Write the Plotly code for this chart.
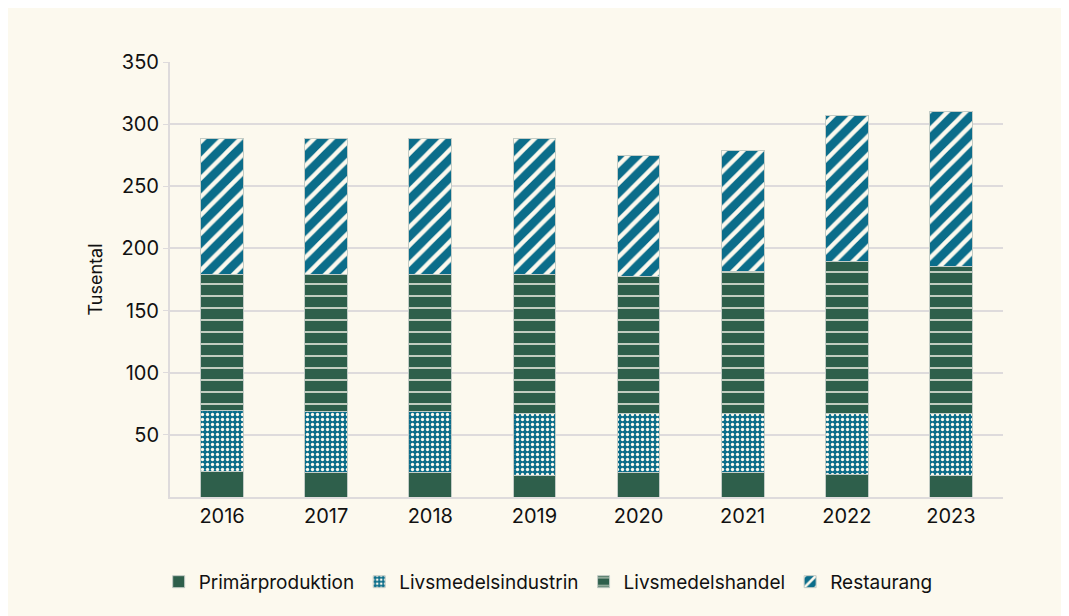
import plotly.graph_objects as go

years = ["2016", "2017", "2018", "2019", "2020", "2021", "2022", "2023"]
primar = [20.4, 19.6, 19.6, 17.7, 19.6, 19.6, 18.5, 17.7]
industri = [49.0, 49.0, 49.0, 49.1, 47.2, 47.2, 49.0, 49.8]
handel = [110.0, 110.8, 110.8, 112.6, 110.9, 114.4, 121.8, 117.7]
restaurang = [109.1, 109.1, 109.1, 109.1, 97.1, 97.6, 117.4, 125.0]

TEAL = "#0b6d8a"
GREEN = "#2e5f4b"
CREAM = "#fcf9ee"
LINE = "#c3ccc6"

fig = go.Figure()
fig.add_bar(name="Primärproduktion", x=years, y=primar,
            marker=dict(color=GREEN, line=dict(color=LINE, width=1)))
fig.add_bar(name="Livsmedelsindustrin", x=years, y=industri,
            marker=dict(color=TEAL, line=dict(color=LINE, width=1),
                        pattern=dict(shape=".", fgcolor=CREAM, bgcolor=TEAL, fgopacity=1,
                                     size=5, solidity=0.35, fillmode="replace")))
fig.add_bar(name="Livsmedelshandel", x=years, y=handel,
            marker=dict(color=GREEN, line=dict(color=LINE, width=1),
                        pattern=dict(shape="-", fgcolor=CREAM, bgcolor=GREEN, fgopacity=1,
                                     size=12, solidity=0.12, fillmode="replace")))
fig.add_bar(name="Restaurang", x=years, y=restaurang,
            marker=dict(color=TEAL, line=dict(color=LINE, width=1),
                        pattern=dict(shape="/", fgcolor=CREAM, bgcolor=TEAL, fgopacity=1,
                                     size=13, solidity=0.33, fillmode="replace")))

fig.update_layout(
    barmode="stack",
    bargap=0.59,
    width=1069, height=616,
    margin=dict(l=162, r=74, t=54, b=127),
    paper_bgcolor=CREAM,
    plot_bgcolor=CREAM,
    font=dict(family="Inter, Roboto, sans-serif", size=20, color="#111111"),
    legend=dict(orientation="h", x=0.454, xanchor="center", y=-0.195, yanchor="middle",
                font=dict(size=19), itemwidth=30, traceorder="normal",
                bgcolor="rgba(0,0,0,0)"),
)
fig.update_yaxes(range=[0, 350], tickvals=[50, 100, 150, 200, 250, 300, 350],
                 showgrid=True, gridcolor="#dedbdc", gridwidth=2,
                 showline=True, linecolor="#dedbdc", linewidth=2,
                 ticks="outside", ticklen=5, tickcolor="#dedbdc",
                 tickfont=dict(size=20),
                 title=dict(text="Tusental", font=dict(size=18), standoff=14),
                 zeroline=False)
fig.update_xaxes(showline=True, linecolor="#dedbdc", linewidth=2, ticks="",
                 tickfont=dict(size=20))

fig.write_html("out.html")
